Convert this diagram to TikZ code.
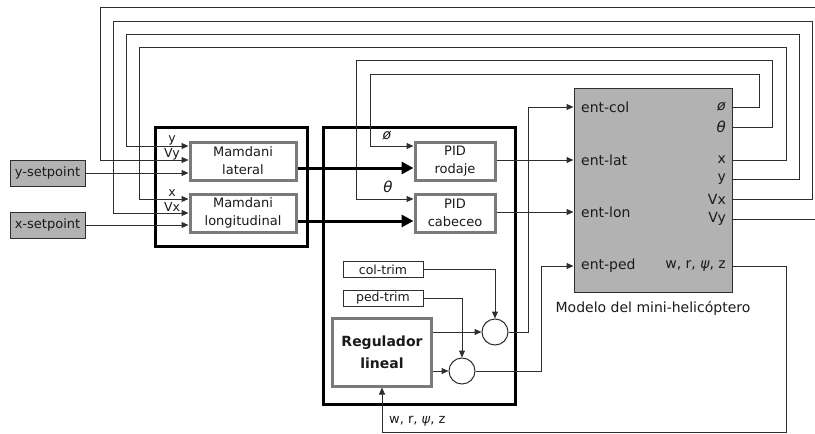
\documentclass[tikz,border=0pt]{standalone}
\usepackage{fontspec}
\setmainfont{DejaVu Sans}
\usetikzlibrary{arrows.meta,calc}
\definecolor{ln}{HTML}{2E2E2E}
\definecolor{txt}{HTML}{1A1A1A}
\definecolor{boxgray}{HTML}{B2B2B2}
\definecolor{brd}{HTML}{7A7A7A}
\begin{document}
\begin{tikzpicture}[x=1pt,y=-1pt,
  every node/.style={font=\fontsize{13}{18}\selectfont, text=txt, inner sep=0pt},
  wire/.style={draw=ln, line width=1pt},
  arr/.style={wire, -{Triangle[length=7pt,width=6pt]}},
  bigarr/.style={draw=black, line width=3pt, -{Triangle[length=12pt,width=12pt]}},
  group/.style={draw=black, line width=3pt},
  fuzzy/.style={draw=brd, line width=3pt, fill=white, align=center},
  setp/.style={draw=ln, line width=1pt, fill=boxgray, minimum width=75pt, minimum height=26pt},
  trim/.style={draw=ln, line width=1pt, fill=white, minimum width=80pt, minimum height=16pt, font=\fontsize{12.5}{14}\selectfont},
  sumc/.style={draw=ln, line width=1pt, fill=white, circle, minimum size=26pt},
  small/.style={font=\fontsize{12.5}{13}\selectfont},
  portin/.style={anchor=west, font=\fontsize{14}{16}\selectfont},
  portout/.style={anchor=east, font=\fontsize{14}{16}\selectfont}
]
\useasboundingbox (0,0) rectangle (815,434);

% group boxes
\node[group, minimum width=152pt, minimum height=119pt] (grpL) at (231,186.5) {};
\node[group, minimum width=192pt, minimum height=277pt] (grpM) at (419,265.5) {};

% setpoints
\node[setp] (ysp) at (47.5,173) {y-setpoint};
\node[setp] (xsp) at (47.5,225) {x-setpoint};

% fuzzy controllers
\node[fuzzy, minimum width=106pt, minimum height=38pt] (mlat) at (243,161) {Mamdani\\lateral};
\node[fuzzy, minimum width=106pt, minimum height=38pt] (mlon) at (243,213) {Mamdani\\longitudinal};

% PIDs
\node[fuzzy, minimum width=80pt, minimum height=38pt] (pidr) at (455,161) {PID\\rodaje};
\node[fuzzy, minimum width=80pt, minimum height=38pt] (pidc) at (455,213) {PID\\cabeceo};

% trims, regulator, sums
\node[trim] (ctrim) at (383,269.5) {col-trim};
\node[trim] (ptrim) at (383,298.5) {ped-trim};
\node[fuzzy, minimum width=99pt, minimum height=68pt, font=\bfseries\fontsize{14}{22}\selectfont] (reg) at (382,352) {Regulador\\lineal};
\node[sumc] (s1) at (495,332) {};
\node[sumc] (s2) at (462,371) {};

% model
\node[draw=ln, line width=1pt, fill=boxgray, minimum width=158pt, minimum height=204pt] (model) at (653,190) {};
\node[portin] (lcol) at (581,107) {ent-col};
\node[portin] (llat) at (581,160) {ent-lat};
\node[portin] (llon) at (581,212) {ent-lon};
\node[portin] (lped) at (581,266) {ent-ped};
\node[portout] (lphi) at (726,107) {\itshape ø};
\node[portout, font=\itshape\fontsize{15}{16}\selectfont] (lth) at (726,127) {θ};
\node[portout] (lx) at (726,160) {x};
\node[portout] (ly) at (726,179) {y};
\node[portout] (lvx) at (726,199) {Vx};
\node[portout] (lvy) at (726,219) {Vy};
\node[portout] (lw) at (726,266) {w, r, \textit{ψ}, z};
\node (mlabel) at (653,308) [font=\fontsize{14}{16}\selectfont] {Modelo del mini-helicóptero};

% feedback labels
\node[small] (ty) at (172,140) {y};
\node[small] (tvy) at (172,154) {Vy};
\node[small] (tx) at (172,193) {x};
\node[small] (tvx) at (172,207) {Vx};
\node[font=\itshape\fontsize{14}{16}\selectfont] (tphi) at (387,136) {ø};
\node[font=\itshape\fontsize{15}{16}\selectfont] (tth) at (388,187) {θ};
\node[anchor=west] (tw) at (389,421) {w, r, \textit{ψ}, z};

\coordinate (edgeA) at (816,219);
\coordinate (edgeB) at (816,7);

% setpoint inputs
\draw[arr] (ysp.east) -- (mlat.west |- ysp.east);
\draw[arr] (xsp.east) -- (mlon.west |- xsp.east);

% outer feedback loops
\draw[wire] (model.east |- lvy) -- (edgeA);
\draw[arr] (edgeB) -- (100,7) -- (100,160) -- (mlat.west |- 100,160);
\draw[arr] (model.east |- lvx) -- (812,199) -- (812,21) -- (113,21) -- (113,213) -- (mlon.west |- 113,213);
\draw[arr] (model.east |- ly) -- (799,179) -- (799,34) -- (126,34) -- (126,146) -- (mlat.west |- 126,146);
\draw[arr] (model.east |- lx) -- (786,160) -- (786,47) -- (139,47) -- (139,199) -- (mlon.west |- 139,199);
\draw[arr] (model.east |- lth) -- (772,127) -- (772,60) -- (356,60) -- (356,199) -- (pidc.west |- 356,199);
\draw[arr] (model.east |- lphi) -- (759,107) -- (759,74) -- (370,74) -- (370,146) -- (pidr.west |- 370,146);

% thick links
\draw[bigarr] (mlat.east |- 0,168) -- (pidr.west |- 0,168);
\draw[bigarr] (mlon.east |- 0,221) -- (pidc.west |- 0,221);

% PID outputs
\draw[arr] (pidr.east |- llat) -- (model.west |- llat);
\draw[arr] (pidc.east |- llon) -- (model.west |- llon);

% trims and regulator
\draw[arr] (ctrim.east) -| (s1.north);
\draw[arr] (ptrim.east) -| (s2.north);
\draw[arr] (reg.east |- s1.west) -- (s1.west);
\draw[arr] (reg.east |- s2.west) -- (s2.west);
\draw[arr] (s1.east) -- (528,332) |- (model.west |- lcol);
\draw[arr] (s2.east) -- (541,371) |- (model.west |- lped);

% bottom feedback
\draw[arr] (model.east |- lw) -- (786,266) -- (786,432) -| (reg.south);
\end{tikzpicture}
\end{document}
